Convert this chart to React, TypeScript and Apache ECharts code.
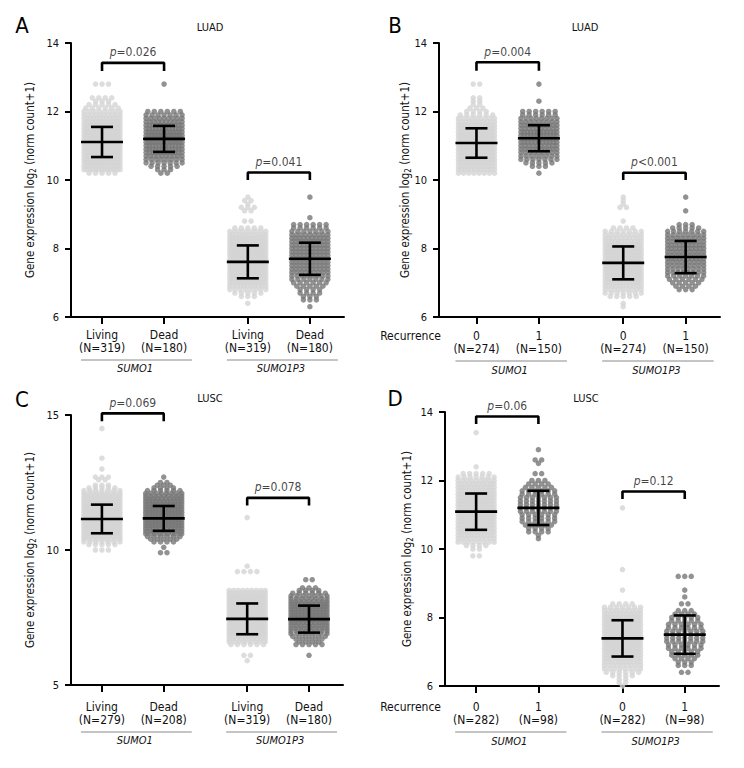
import React, { useEffect, useRef } from "react";
import * as echarts from "echarts";

type Bin = [number, number]; // [value, number of samples at that value]

const FONT = "'Liberation Sans Narrow','DejaVu Sans Condensed','Roboto',sans-serif";
const LIGHT = "#d5d5d5";
const DARK = "#777777";

const positions = [1, 2, 3.35, 4.35];
const geneNames = ["SUMO1", "SUMO1P3"];

// ---------- Panel A : LUAD, vital status ----------
const aLabels = [["Living", "(N=319)"], ["Dead", "(N=180)"], ["Living", "(N=319)"], ["Dead", "(N=180)"]];
const aMeans = [11.11, 11.2, 7.61, 7.7];
const aSDs = [0.44, 0.38, 0.48, 0.47];
const aPValues = ["=0.026", "=0.041"];
const aBrackets = [[13.42, 13.18], [10.22, 10.0]];
const aSumo1Living: Bin[] = [[12.8,3],[12.4,4],[12.3,3],[12.2,5],[12.1,6],[12.0,8],[11.9,10],[11.8,12],[11.7,14],[11.6,16],[11.5,18],[11.4,19],[11.3,20],[11.2,20],[11.1,20],[11.0,20],[10.9,19],[10.8,19],[10.7,18],[10.6,17],[10.5,16],[10.4,14],[10.3,13],[10.2,5]];
const aSumo1Dead: Bin[] = [[12.8,1],[12.0,6],[11.9,7],[11.8,9],[11.7,10],[11.6,11],[11.5,12],[11.4,13],[11.3,14],[11.2,14],[11.1,13],[11.0,12],[10.9,12],[10.8,11],[10.7,10],[10.6,8],[10.5,7],[10.4,5],[10.3,3],[10.2,2]];
const aP3Living: Bin[] = [[9.5,1],[9.4,2],[9.3,1],[9.2,3],[9.1,2],[8.8,2],[8.6,5],[8.5,9],[8.4,12],[8.3,14],[8.2,16],[8.1,18],[8.0,19],[7.9,20],[7.8,20],[7.7,21],[7.6,21],[7.5,21],[7.4,19],[7.3,18],[7.2,17],[7.1,16],[7.0,14],[6.9,11],[6.8,8],[6.7,5],[6.6,3],[6.4,1]];
const aP3Dead: Bin[] = [[9.5,1],[8.9,1],[8.7,6],[8.6,6],[8.5,7],[8.4,9],[8.3,10],[8.2,10],[8.1,10],[8.0,10],[7.9,10],[7.8,10],[7.7,10],[7.6,10],[7.5,10],[7.4,10],[7.3,9],[7.2,8],[7.1,7],[7.0,6],[6.9,5],[6.8,4],[6.7,4],[6.6,3],[6.5,3],[6.3,1]];

// ---------- Panel B : LUAD, recurrence ----------
const bLabels = [["0", "(N=274)"], ["1", "(N=150)"], ["0", "(N=274)"], ["1", "(N=150)"]];
const bMeans = [11.08, 11.22, 7.58, 7.75];
const bSDs = [0.43, 0.38, 0.48, 0.47];
const bPValues = ["=0.004", "<0.001"];
const bBrackets = [[13.44, 13.19], [10.21, 10.0]];
const bSumo1No: Bin[] = [[12.8,2],[12.4,2],[12.3,2],[12.2,2],[12.1,3],[12.0,4],[11.9,6],[11.8,9],[11.7,11],[11.6,13],[11.5,15],[11.4,16],[11.3,17],[11.2,18],[11.1,19],[11.0,19],[10.9,18],[10.8,17],[10.7,17],[10.6,16],[10.5,15],[10.4,13],[10.3,12],[10.2,8]];
const bSumo1Yes: Bin[] = [[12.8,1],[12.3,1],[12.0,6],[11.9,6],[11.8,8],[11.7,9],[11.6,10],[11.5,10],[11.4,12],[11.3,12],[11.2,11],[11.1,11],[11.0,10],[10.9,10],[10.8,9],[10.7,8],[10.6,7],[10.5,5],[10.4,3],[10.2,1]];
const bP3No: Bin[] = [[9.5,1],[9.4,1],[9.3,1],[9.2,2],[8.8,1],[8.6,4],[8.5,7],[8.4,9],[8.3,10],[8.2,12],[8.1,14],[8.0,15],[7.9,17],[7.8,17],[7.7,17],[7.6,17],[7.5,17],[7.4,17],[7.3,17],[7.2,16],[7.1,15],[7.0,13],[6.9,11],[6.8,9],[6.7,7],[6.6,5],[6.4,1],[6.3,1]];
const bP3Yes: Bin[] = [[9.5,1],[9.1,1],[8.7,3],[8.6,5],[8.5,7],[8.4,8],[8.3,9],[8.2,9],[8.1,10],[8.0,10],[7.9,9],[7.8,9],[7.7,10],[7.6,9],[7.5,9],[7.4,8],[7.3,8],[7.2,7],[7.1,6],[7.0,5],[6.9,4],[6.8,3]];

// ---------- Panel C : LUSC, vital status ----------
const cLabels = [["Living", "(N=279)"], ["Dead", "(N=208)"], ["Living", "(N=319)"], ["Dead", "(N=180)"]];
const cMeans = [11.15, 11.17, 7.45, 7.44];
const cSDs = [0.53, 0.46, 0.57, 0.5];
const cPValues = ["=0.069", "=0.078"];
const cBrackets = [[15.06, 14.77], [11.93, 11.65]];
const cSumo1Living: Bin[] = [[14.5,1],[13.4,1],[13.0,1],[12.7,3],[12.6,2],[12.4,3],[12.3,5],[12.2,7],[12.1,9],[12.0,11],[11.9,12],[11.8,13],[11.7,14],[11.6,15],[11.5,15],[11.4,15],[11.3,15],[11.2,15],[11.1,15],[11.0,15],[10.9,15],[10.8,15],[10.7,14],[10.6,13],[10.5,11],[10.4,9],[10.3,7],[10.2,5],[10.0,3]];
const cSumo1Dead: Bin[] = [[12.7,1],[12.5,2],[12.4,3],[12.3,4],[12.2,6],[12.1,8],[12.0,9],[11.9,10],[11.8,11],[11.7,11],[11.6,11],[11.5,12],[11.4,12],[11.3,12],[11.2,12],[11.1,12],[11.0,12],[10.9,12],[10.8,11],[10.7,10],[10.6,9],[10.5,6],[10.4,5],[10.3,4],[10.1,1],[9.9,2]];
const cP3Living: Bin[] = [[11.2,1],[9.4,1],[9.2,4],[8.5,9],[8.4,12],[8.3,14],[8.2,16],[8.1,16],[8.0,17],[7.9,18],[7.8,18],[7.7,18],[7.6,18],[7.5,18],[7.4,18],[7.3,18],[7.2,17],[7.1,17],[7.0,16],[6.9,14],[6.8,12],[6.7,10],[6.6,8],[6.5,6],[6.1,2],[5.9,1]];
const cP3Dead: Bin[] = [[8.9,2],[8.6,3],[8.5,4],[8.4,6],[8.3,7],[8.2,8],[8.1,9],[8.0,11],[7.9,11],[7.8,11],[7.7,11],[7.6,11],[7.5,11],[7.4,11],[7.3,10],[7.2,9],[7.1,9],[7.0,8],[6.9,7],[6.8,6],[6.7,5],[6.6,4],[6.5,5],[6.1,1]];

// ---------- Panel D : LUSC, recurrence ----------
const dLabels = [["0", "(N=282)"], ["1", "(N=98)"], ["0", "(N=282)"], ["1", "(N=98)"]];
const dMeans = [11.09, 11.2, 7.39, 7.5];
const dSDs = [0.53, 0.5, 0.53, 0.56];
const dPValues = ["=0.06", "=0.12"];
const dBrackets = [[13.87, 13.65], [11.68, 11.46]];
const dSumo1No: Bin[] = [[13.4,1],[12.4,1],[12.2,5],[12.1,7],[12.0,9],[11.9,11],[11.8,12],[11.7,13],[11.6,14],[11.5,15],[11.4,16],[11.3,17],[11.2,17],[11.1,17],[11.0,16],[10.9,16],[10.8,15],[10.7,15],[10.6,14],[10.5,13],[10.4,12],[10.3,10],[10.2,8],[10.1,4],[10.0,2],[9.8,2]];
const dSumo1Yes: Bin[] = [[12.9,1],[12.6,2],[12.5,1],[12.2,2],[12.0,3],[11.9,4],[11.8,5],[11.7,6],[11.6,6],[11.5,7],[11.4,7],[11.3,7],[11.2,7],[11.1,7],[11.0,6],[10.9,6],[10.8,6],[10.7,5],[10.6,4],[10.5,4],[10.4,1],[10.3,1]];
const dP3No: Bin[] = [[11.2,1],[9.4,1],[8.8,1],[8.4,4],[8.3,7],[8.2,10],[8.1,12],[8.0,14],[7.9,15],[7.8,15],[7.7,16],[7.6,16],[7.5,17],[7.4,17],[7.3,17],[7.2,17],[7.1,16],[7.0,16],[6.9,14],[6.8,13],[6.7,11],[6.6,9],[6.5,8],[6.4,6],[6.3,4],[6.2,2],[6.1,2],[6.0,1]];
const dP3Yes: Bin[] = [[9.2,3],[8.8,1],[8.6,1],[8.4,2],[8.2,3],[8.1,4],[8.0,5],[7.9,5],[7.8,6],[7.7,6],[7.6,7],[7.5,7],[7.4,7],[7.3,7],[7.2,6],[7.1,6],[7.0,5],[6.9,5],[6.8,4],[6.7,3],[6.6,3],[6.4,2]];

// ---------- layout (pixels) ----------
const panels = [
  { letter: "A", title: "LUAD", labels: aLabels, means: aMeans, sds: aSDs, pValues: aPValues, brackets: aBrackets, groups: [aSumo1Living, aSumo1Dead, aP3Living, aP3Dead],
    left: 71, top: 43, width: 273, height: 274, xMin: 0.5, xMax: 4.9, yMin: 6, yMax: 14, yInt: 2, labelMargin: 11,
    titleX: 210, titleY: 27, letterX: 22, letterY: 25, yNameX: 30, underlineY: 360, geneY: 368, recurrence: null as null | number[] },
  { letter: "B", title: "LUAD", labels: bLabels, means: bMeans, sds: bSDs, pValues: bPValues, brackets: bBrackets, groups: [bSumo1No, bSumo1Yes, bP3No, bP3Yes],
    left: 439, top: 43, width: 281, height: 274, xMin: 0.4, xMax: 4.9, yMin: 6, yMax: 14, yInt: 2, labelMargin: 12,
    titleX: 585, titleY: 27, letterX: 395, letterY: 25, yNameX: 405, underlineY: 361, geneY: 370, recurrence: [441, 336] },
  { letter: "C", title: "LUSC", labels: cLabels, means: cMeans, sds: cSDs, pValues: cPValues, brackets: cBrackets, groups: [cSumo1Living, cSumo1Dead, cP3Living, cP3Dead],
    left: 71, top: 415, width: 272, height: 270, xMin: 0.5, xMax: 4.9, yMin: 5, yMax: 15, yInt: 5, labelMargin: 15,
    titleX: 210, titleY: 398, letterX: 22, letterY: 399, yNameX: 30, underlineY: 732, geneY: 740, recurrence: null },
  { letter: "D", title: "LUSC", labels: dLabels, means: dMeans, sds: dSDs, pValues: dPValues, brackets: dBrackets, groups: [dSumo1No, dSumo1Yes, dP3No, dP3Yes],
    left: 445, top: 412, width: 274, height: 274, xMin: 0.5, xMax: 4.9, yMin: 6, yMax: 14, yInt: 2, labelMargin: 14,
    titleX: 586, titleY: 398, letterX: 395, letterY: 398, yNameX: 407, underlineY: 732, geneY: 741, recurrence: [441, 707] },
];

function swarm(bins: Bin[], pos: number, unitPx: number): number[][] {
  const pts: number[][] = [];
  for (const [v, n] of bins) {
    const s = n > 1 ? Math.min(6.5, 36 / (n - 1)) : 0;
    for (let i = 0; i < n; i++) {
      const off = (i - (n - 1) / 2) * s;
      pts.push([pos + off / unitPx, v]);
    }
  }
  return pts;
}

function buildOption() {
  const grid: any[] = [];
  const xAxis: any[] = [];
  const yAxis: any[] = [];
  const series: any[] = [];
  const graphic: any[] = [];

  panels.forEach((p, k) => {
    const unit = p.width / (p.xMax - p.xMin);
    const px = (x: number) => p.left + (x - p.xMin) * unit;
    grid.push({ left: p.left, top: p.top, width: p.width, height: p.height });
    xAxis.push({
      gridIndex: k, type: "value", min: p.xMin, max: p.xMax,
      axisLine: { onZero: false, lineStyle: { color: "#000", width: 2 } },
      axisTick: { customValues: positions, length: 7, lineStyle: { color: "#000", width: 2 } },
      axisLabel: {
        customValues: positions, margin: p.labelMargin,
        formatter: (v: number) => {
          const i = positions.findIndex((q) => Math.abs(q - v) < 1e-6);
          return i < 0 ? "" : `{a|${p.labels[i][0]}}\n{a|${p.labels[i][1]}}`;
        },
        rich: { a: { fontFamily: FONT, fontSize: 12, lineHeight: 13, color: "#111" } },
      },
      splitLine: { show: false },
    });
    yAxis.push({
      gridIndex: k, type: "value", min: p.yMin, max: p.yMax, interval: p.yInt,
      axisLine: { show: true, onZero: false, lineStyle: { color: "#000", width: 2 } },
      axisTick: { show: true, length: 6, lineStyle: { color: "#000", width: 2 } },
      axisLabel: { fontFamily: FONT, fontSize: 11, color: "#111", margin: 12 },
      splitLine: { show: false },
    });

    p.groups.forEach((bins, j) => {
      series.push({
        type: "scatter", xAxisIndex: k, yAxisIndex: k, silent: true, symbolSize: 5.5,
        itemStyle: { color: j % 2 === 0 ? LIGHT : DARK },
        data: swarm(bins, positions[j], unit), z: 2,
      });
    });

    series.push({
      type: "custom", xAxisIndex: k, yAxisIndex: k, silent: true, z: 5,
      data: positions.map((x, j) => [x, p.means[j], p.sds[j]]),
      renderItem: (_params: any, api: any) => {
        const x = api.value(0), m = api.value(1), sd = api.value(2);
        const c = api.coord([x, m]);
        const hi = api.coord([x, m + sd]);
        const lo = api.coord([x, m - sd]);
        const style = { stroke: "#000", lineWidth: 2.6 };
        return {
          type: "group",
          children: [
            { type: "line", shape: { x1: c[0] - 21, y1: c[1], x2: c[0] + 21, y2: c[1] }, style },
            { type: "line", shape: { x1: hi[0] - 11, y1: hi[1], x2: hi[0] + 11, y2: hi[1] }, style },
            { type: "line", shape: { x1: lo[0] - 11, y1: lo[1], x2: lo[0] + 11, y2: lo[1] }, style },
            { type: "line", shape: { x1: c[0], y1: hi[1], x2: c[0], y2: lo[1] }, style },
          ],
        };
      },
    });

    p.brackets.forEach(([topV, legV], b) => {
      const x1 = positions[2 * b], x2 = positions[2 * b + 1];
      series.push({
        type: "line", xAxisIndex: k, yAxisIndex: k, silent: true, clip: false, symbol: "none", z: 5,
        lineStyle: { color: "#000", width: 2.6 },
        data: [[x1, legV], [x1, topV], [x2, topV], [x2, legV]],
      });
      series.push({
        type: "scatter", xAxisIndex: k, yAxisIndex: k, silent: true, clip: false, symbolSize: 1, z: 6,
        itemStyle: { color: "rgba(0,0,0,0)" },
        data: [[(x1 + x2) / 2, topV]],
        label: {
          show: true, position: "top", distance: 4,
          formatter: `{i|p}{n|${p.pValues[b]}}`,
          rich: {
            i: { fontFamily: FONT, fontSize: 12, fontStyle: "italic", color: "#111" },
            n: { fontFamily: FONT, fontSize: 12, color: "#111" },
          },
        },
      });
    });

    // panel letter, title, y-axis name
    graphic.push({ type: "text", x: p.letterX, y: p.letterY, style: { text: p.letter, font: `22px ${FONT}`, fill: "#000", align: "center", verticalAlign: "middle" } });
    graphic.push({ type: "text", x: p.titleX, y: p.titleY, style: { text: p.title, font: `11px ${FONT}`, fill: "#111", align: "center", verticalAlign: "middle" } });
    graphic.push({
      type: "text", x: p.yNameX, y: p.top + p.height / 2, rotation: Math.PI / 2,
      style: {
        text: "{t|Gene expression log}{s|2}{t| (norm count+1)}",
        align: "center", verticalAlign: "middle",
        rich: {
          t: { fontFamily: FONT, fontSize: 11.5, lineHeight: 14, fill: "#111" },
          s: { fontFamily: FONT, fontSize: 8, lineHeight: 8, verticalAlign: "bottom", fill: "#111" },
        },
      },
    });
    // gene group underlines and names
    for (let b = 0; b < 2; b++) {
      const c1 = px(positions[2 * b]), c2 = px(positions[2 * b + 1]);
      graphic.push({ type: "line", shape: { x1: c1 - 21, y1: p.underlineY, x2: c2 + 28, y2: p.underlineY }, style: { stroke: "#8a8a8a", lineWidth: 1 } });
      graphic.push({ type: "text", x: (c1 + c2) / 2 + 2, y: p.geneY, style: { text: geneNames[b], font: `italic 11px ${FONT}`, fill: "#111", align: "center", verticalAlign: "middle" } });
    }
    if (p.recurrence) {
      graphic.push({ type: "text", x: p.recurrence[0], y: p.recurrence[1], style: { text: "Recurrence", font: `12px ${FONT}`, fill: "#111", align: "right", verticalAlign: "middle" } });
    }
  });

  return { animation: false, backgroundColor: "#fff", grid, xAxis, yAxis, series, graphic };
}

export default function App() {
  const ref = useRef<HTMLDivElement>(null);
  useEffect(() => {
    if (!ref.current) return;
    const chart = echarts.init(ref.current, undefined, { renderer: "svg" });
    chart.setOption(buildOption() as any);
    return () => chart.dispose();
  }, []);
  return <div ref={ref} style={{ position: "absolute", left: 0, top: 0, width: 744, height: 768 }} />;
}
